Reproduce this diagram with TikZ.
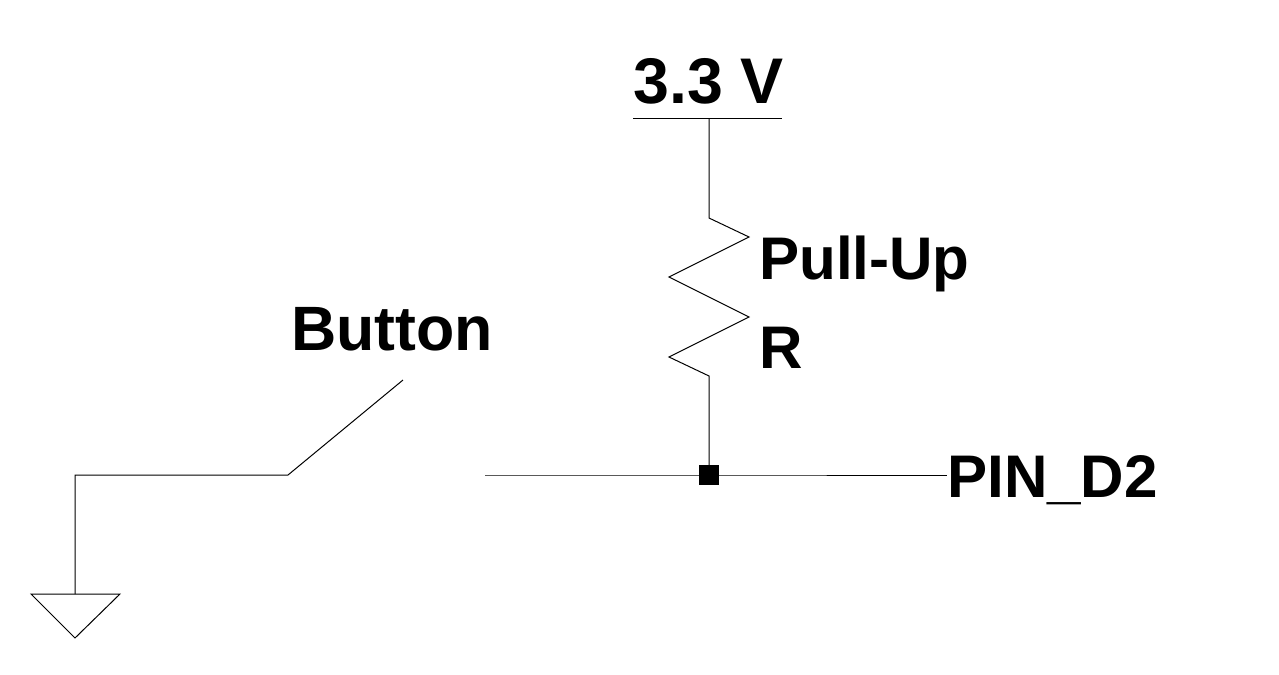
\documentclass[tikz,border=0pt]{standalone}
\usepackage{fontspec}
\setmainfont{Liberation Sans}
\tikzset{
	wire/.style={draw=black, line width=0.75pt, line join=miter},
	lbl/.style={anchor=base west, inner sep=0pt, font=\bfseries\fontsize{45.1pt}{50pt}\selectfont},
	biglbl/.style={lbl, font=\bfseries\fontsize{47pt}{52pt}\selectfont},
	vcclbl/.style={lbl, font=\bfseries\fontsize{48.4pt}{54pt}\selectfont},
	dotnode/.style={draw=none, fill=black, minimum size=15pt, inner sep=0pt, rectangle}
}
\begin{document}
\begin{tikzpicture}[x=0.75pt, y=-0.75pt]
	\useasboundingbox (0,0) rectangle (1279,675);
	% supply rail and resistor
	\coordinate (railL) at (633,118);
	\coordinate (railR) at (781.5,118);
	\coordinate (railM) at (709,118);
	\coordinate (resT) at (709,218);
	\coordinate (resB) at (709,376);
	\node[dotnode] (jct) at (709,475) {};
	\draw[wire] (railL) -- (railR);
	\draw[wire] (railM) -- (resT) -- (749,237) -- (669,277) -- (749,317) -- (669,357) -- (resB) -- (jct.center);
	% switch and ground
	\coordinate (swL) at (288,475);
	\coordinate (swT) at (403,380);
	\coordinate (swR) at (485,475);
	\coordinate (bend) at (75,475);
	\coordinate (gnd) at (75,594);
	\coordinate (pinEnd) at (947,475);
	\draw[wire] (swT) -- (swL) -- (bend) -- (gnd);
	\draw[wire] (swR) -- (jct.center) -- (pinEnd);
	\draw[wire] (31,594) -- (120,594) -- (75,638) -- cycle;
	% labels
	\node[vcclbl] (vcc) at (633,103) {3.3 V};
	\node[lbl] (pullup) at (759,279) {Pull-Up};
	\node[lbl] (resR) at (759,368) {R};
	\node[biglbl] (btn) at (291,350) {Button};
	\node[lbl] (pin) at (947,497) {PIN\_D2};
\end{tikzpicture}
\end{document}
